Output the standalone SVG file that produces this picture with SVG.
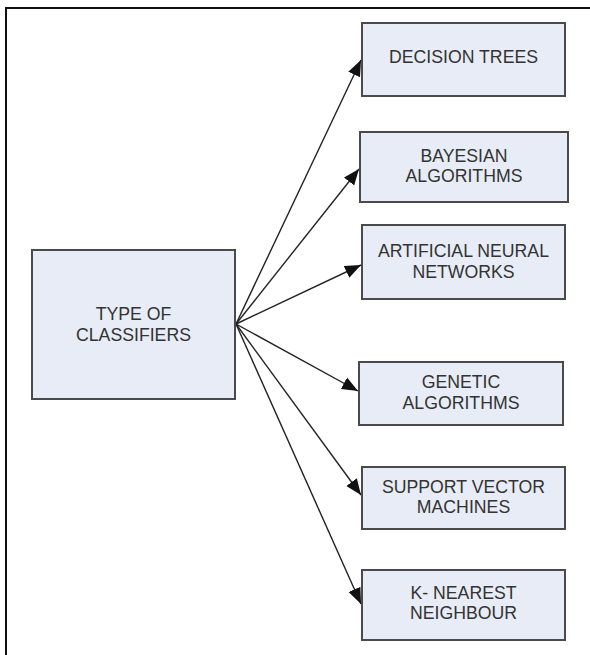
<svg xmlns="http://www.w3.org/2000/svg" width="590" height="655" viewBox="0 0 590 655">
<defs>
<style>
.box{fill:#e7ecf6;stroke:#4a4a4a;stroke-width:2}
.lbl{font-family:"Liberation Sans",Arial,sans-serif;font-size:17.7px;fill:#333;text-anchor:middle}
.con{stroke:#222;stroke-width:1.4;fill:none;marker-end:url(#ah)}
</style>
<marker id="ah" markerUnits="userSpaceOnUse" markerWidth="17" markerHeight="14" viewBox="0 0 17 14" refX="16" refY="7" orient="auto">
<path d="M0,0.5 L16,7 L0,13.5 Z" fill="#111"/>
</marker>
</defs>
<rect width="590" height="655" fill="#fff"/>
<path d="M6,655 V8 H590" fill="none" stroke="#111" stroke-width="2"/>
<g id="connectors">
<line class="con" x1="236" y1="324" x2="361" y2="60"/>
<line class="con" x1="236" y1="324" x2="359" y2="169"/>
<line class="con" x1="236" y1="324" x2="361" y2="265"/>
<line class="con" x1="236" y1="324" x2="358" y2="391"/>
<line class="con" x1="236" y1="324" x2="361" y2="495"/>
<line class="con" x1="236" y1="324" x2="361" y2="604"/>
</g>
<g id="type">
<rect class="box" x="32" y="250" width="203" height="149"/>
<text class="lbl" x="133.5" y="320">TYPE OF</text>
<text class="lbl" x="133.5" y="340.5">CLASSIFIERS</text>
</g>
<g id="dt">
<rect class="box" x="362" y="23" width="203" height="73"/>
<text class="lbl" x="463.5" y="63">DECISION TREES</text>
</g>
<g id="bay">
<rect class="box" x="360" y="132" width="208" height="70"/>
<text class="lbl" x="464" y="161.5">BAYESIAN</text>
<text class="lbl" x="464" y="182">ALGORITHMS</text>
</g>
<g id="ann">
<rect class="box" x="362" y="225" width="203" height="74"/>
<text class="lbl" x="463.5" y="257">ARTIFICIAL NEURAL</text>
<text class="lbl" x="463.5" y="277.5">NETWORKS</text>
</g>
<g id="gen">
<rect class="box" x="359" y="362" width="204" height="63"/>
<text class="lbl" x="461" y="388">GENETIC</text>
<text class="lbl" x="461" y="408.5">ALGORITHMS</text>
</g>
<g id="svm">
<rect class="box" x="362" y="467" width="203" height="62"/>
<text class="lbl" x="463.5" y="492.5">SUPPORT VECTOR</text>
<text class="lbl" x="463.5" y="513">MACHINES</text>
</g>
<g id="knn">
<rect class="box" x="362" y="570" width="203" height="70"/>
<text class="lbl" x="463.5" y="598.5">K- NEAREST</text>
<text class="lbl" x="463.5" y="619">NEIGHBOUR</text>
</g>
</svg>
